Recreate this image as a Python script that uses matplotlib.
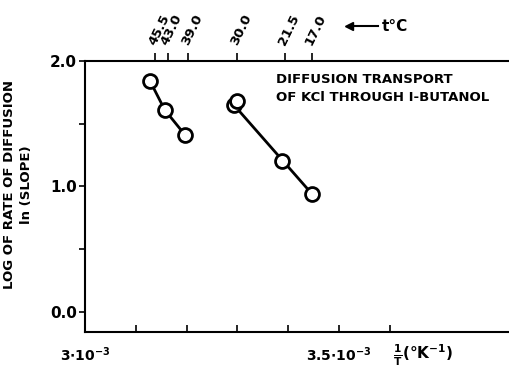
import numpy as np
import matplotlib.pyplot as plt

# 1/T in units of 1e-3 K^-1, ln(slope)
inv_t_high = [3.128, 3.157, 3.197]
ln_slope_high = [1.84, 1.61, 1.41]
inv_t_low = [3.293, 3.299, 3.388, 3.447]
ln_slope_low = [1.65, 1.68, 1.20, 0.94]
fit_low_x = [3.293, 3.447]
fit_low_y = [1.65, 0.94]

temps_c = [45.5, 43.0, 39.0, 30.0, 21.5, 17.0]
temp_labels = ["45.5", "43.0", "39.0", "30.0", "21.5", "17.0"]
x_ticks = [3.0, 3.1, 3.2, 3.3, 3.4, 3.5, 3.6]
x_labels = [r"3$\cdot$10$^{-3}$", "", "", "", "", r"3.5$\cdot$10$^{-3}$", ""]

plt.rcParams['font.family'] = ['DejaVu Sans']
plt.rcParams['font.weight'] = 'bold'
plt.rcParams['mathtext.default'] = 'bf'

fig = plt.figure(figsize=(5.1, 3.76), dpi=100)
ax = fig.add_axes([0.1667, 0.117, 0.8333, 0.721])

ax.plot(inv_t_high, ln_slope_high, color='black', lw=2, zorder=1)
ax.plot(fit_low_x, fit_low_y, color='black', lw=2, zorder=1)
ax.plot(inv_t_high, ln_slope_high, 'o', ms=10, mfc='white', mec='black', mew=2, zorder=2)
ax.plot(inv_t_low, ln_slope_low, 'o', ms=10, mfc='white', mec='black', mew=2, zorder=2)

ax.set_xlim(3.0, 3.837)
ax.set_ylim(-0.16, 2.0)
ax.spines['right'].set_visible(False)
for s in ['left', 'bottom', 'top']:
    ax.spines[s].set_linewidth(1.5)

ax.set_xticks(x_ticks, labels=x_labels)
ax.tick_params(axis='x', direction='in', length=5, width=1.2, labelsize=10, pad=10)
ax.set_yticks([0.0, 1.0, 2.0], labels=["0.0", "1.0", "2.0"])
ax.set_yticks([0.5, 1.5], minor=True)
ax.tick_params(axis='y', which='both', direction='out', length=4, width=1.2, labelsize=11, pad=2)

sec = ax.secondary_xaxis('top', functions=(lambda x: 1000.0 / np.maximum(x, 1e-6) - 273.15,
                                           lambda c: 1000.0 / np.maximum(c + 273.15, 1e-6)))
sec.spines['top'].set_visible(False)
sec.set_xticks(temps_c, labels=temp_labels)
sec.tick_params(direction='out', length=6, width=1.2, labelsize=9.5, pad=5)
for lab in sec.get_xticklabels():
    lab.set_rotation(64)
    lab.set_ha('left')
    lab.set_va('baseline')
    lab.set_rotation_mode('anchor')

fig.text(0.749, 0.93, "t°C", fontsize=11, fontweight='bold', va='center')
fig.add_artist(plt.Line2D([0.684, 0.742], [0.932, 0.932], color='black', lw=1.5))
fig.add_artist(plt.Line2D([0.684], [0.932], marker='<', ms=6, color='black'))

ax.text(0.45, 0.955, "DIFFUSION TRANSPORT\nOF KCl THROUGH I-BUTANOL",
        transform=ax.transAxes, fontsize=9.5, fontweight='bold', va='top', ha='left',
        linespacing=1.45)

fig.text(0.035, 0.51, "LOG OF RATE OF DIFFUSION\nln (SLOPE)", rotation=90,
         fontsize=9.5, fontweight='bold', va='center', ha='center', linespacing=1.4)

fig.text(0.77, 0.055, r"$\frac{1}{T}$(°K$^{-1}$)", fontsize=11, fontweight='bold', va='center')

fig.savefig("out.png", dpi=100)
